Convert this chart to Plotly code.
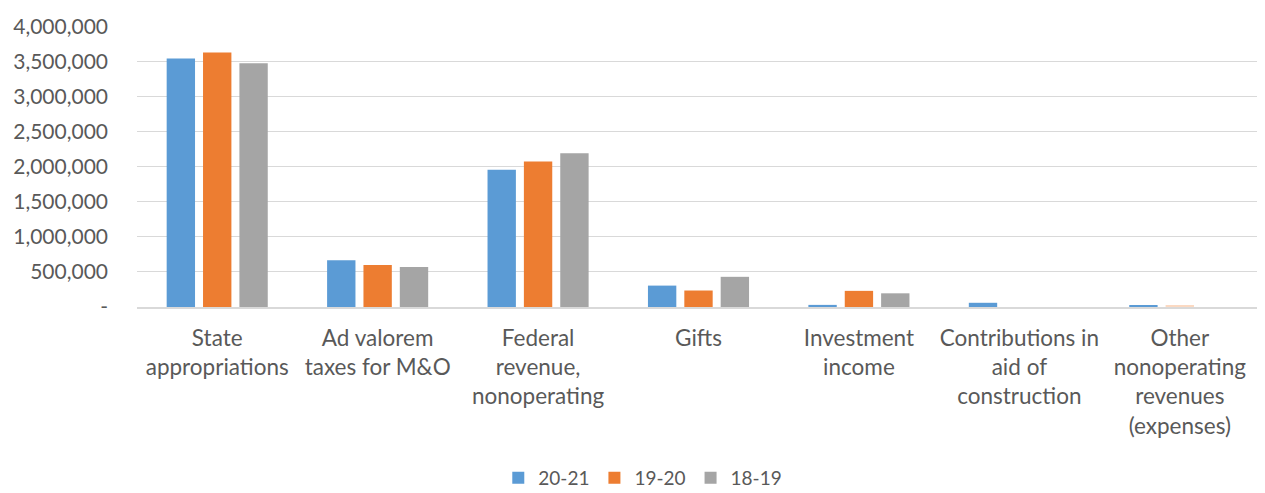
import plotly.graph_objects as go

categories = [
    "State<br>appropriations",
    "Ad valorem<br>taxes for M&O",
    "Federal<br>revenue,<br>nonoperating",
    "Gifts",
    "Investment<br>income",
    "Contributions in<br>aid of<br>construction",
    "Other<br>nonoperating<br>revenues<br>(expenses)",
]

fy_20_21 = [3540000, 665000, 1955000, 305000, 30000, 60000, 28000]
fy_19_20 = [3625000, 600000, 2075000, 235000, 230000, 0, 18000]
fy_18_19 = [3475000, 570000, 2190000, 430000, 195000, 0, 0]

tick_vals = [0, 500000, 1000000, 1500000, 2000000, 2500000, 3000000, 3500000, 4000000]
tick_text = ["-", "500,000", "1,000,000", "1,500,000", "2,000,000",
             "2,500,000", "3,000,000", "3,500,000", "4,000,000"]

font_family = "Lato, Liberation Sans, sans-serif"
text_grey = "#595959"

# last orange bar is drawn pale in the original
orange_colors = ["#ED7D31"] * 6 + ["#FBD9C2"]

fig = go.Figure()
fig.add_trace(go.Bar(name="20-21", x=categories, y=fy_20_21, marker_color="#5B9BD5"))
fig.add_trace(go.Bar(name="19-20", x=categories, y=fy_19_20, marker_color=orange_colors))
fig.add_trace(go.Bar(name="18-19", x=categories, y=fy_18_19, marker_color="#A5A5A5"))

fig.update_traces(marker_line_width=0)

# page body adds an 8px margin, so the figure is sized to fit inside the window
fig.update_layout(
    barmode="group",
    bargap=0.32,
    bargroupgap=0.22,
    width=1257,
    height=485,
    plot_bgcolor="white",
    paper_bgcolor="white",
    font=dict(family=font_family, size=21, color=text_grey),
    margin=dict(t=10, b=186, l=129, r=5),
    xaxis=dict(
        showline=True, linecolor="#D9D9D9", linewidth=1.5,
        ticks="", ticklabelstandoff=10,
        tickfont=dict(size=22.5, color=text_grey),
    ),
    yaxis=dict(
        # tiny headroom so the 4,000,000 gridline is drawn at the top edge
        range=[0, 4004000], tickvals=tick_vals, ticktext=tick_text,
        showgrid=True, gridcolor="#D9D9D9", gridwidth=1,
        zeroline=False, ticks="", ticklabelstandoff=28,
        ticklabeloverflow="allow",
        tickfont=dict(size=21, color=text_grey),
    ),
    legend=dict(
        orientation="h", xref="container", x=0.505, xanchor="center",
        yref="container", y=0.031, yanchor="middle",
        font=dict(size=19, color=text_grey), traceorder="normal",
    ),
)

fig.write_html("out.html")
